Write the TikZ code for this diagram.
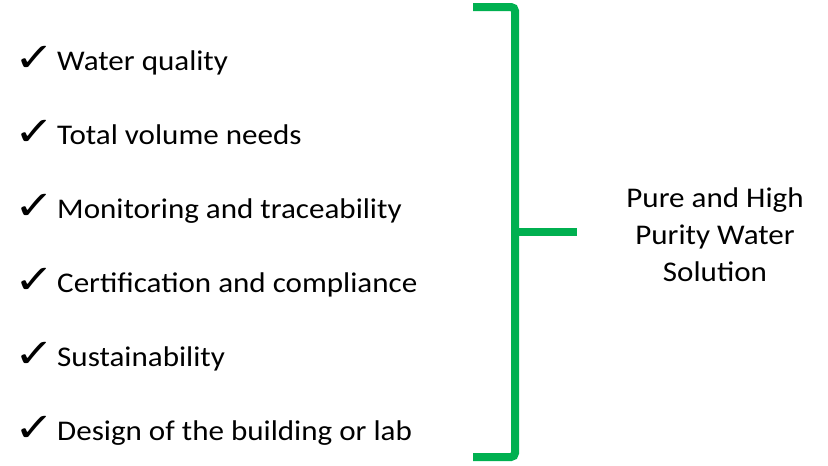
\documentclass[tikz,border=0pt]{standalone}
\usepackage{fontspec}
\setmainfont{Carlito}
\newfontfamily\symfont{DejaVu Sans}
\usepackage{tikz}
\usetikzlibrary{positioning}
\definecolor{bracegreen}{RGB}{0,176,80}
\newcommand{\widetext}[1]{\scalebox{1.09}[1]{#1}}
\tikzset{item/.style={anchor=base west, inner sep=0pt, font=\fontsize{28.5}{34}\selectfont}}
\tikzset{tick/.style={anchor=base west, inner sep=0pt, font=\fontsize{40}{48}\symfont}}
\tikzset{brace/.style={draw=bracegreen, line width=8pt, rounded corners=4pt}}

\begin{document}
\begin{tikzpicture}[x=1pt,y=-1pt]
  \useasboundingbox (0,0) rectangle (828,466);
  % check list
  \foreach \name/\txt [count=\i] in {wq/Water quality, vol/Total volume needs,
      mon/Monitoring and traceability, cert/Certification and compliance,
      sus/Sustainability, des/Design of the building or lab}{
    \node[tick] (ck-\name) at (14,{70+74*(\i-1)+1}) {\scalebox{1.2}[1]{✓}};
    \node[item] (\name) at (57,{70+74*(\i-1)}) {\widetext{\txt}};
  }
  % bracket
  \coordinate (bt) at (473,7);
  \coordinate (bb) at (473,457);
  \coordinate (bm) at (515,232);
  \coordinate (bend) at (577,232);
  \draw[brace] (bt) -- (515,7) -- (515,457) -- (bb);
  \draw[bracegreen, line width=8pt] (bm) -- (bend);
  % result
  \node[align=center, inner sep=0pt, font=\fontsize{28.5}{37}\selectfont] (sol)
    at (715,235) {\widetext{Pure and High}\\\widetext{Purity Water}\\\widetext{Solution}};
\end{tikzpicture}
\end{document}
